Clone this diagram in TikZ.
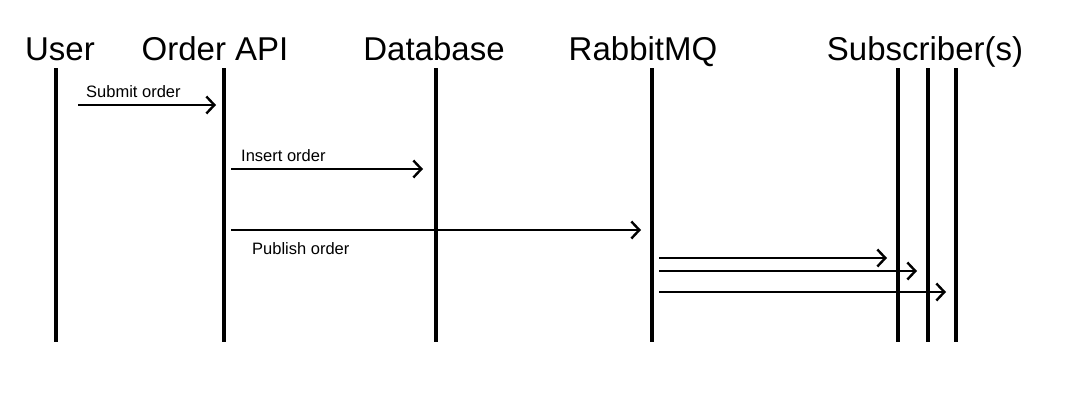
\documentclass[tikz,border=0pt]{standalone}
\usepackage{fontspec}
\setmainfont{Liberation Sans}
\usetikzlibrary{arrows.meta}
\begin{document}
\begin{tikzpicture}[x=1pt,y=-1pt,
  lifeline/.style={line width=4pt},
  title/.style={font=\fontsize{33}{36}\selectfont, inner sep=0pt, anchor=base},
  msg/.style={line width=2.4pt, -{Straight Barb[length=8pt,width=17pt,line width=2.4pt]}},
  lbl/.style={font=\fontsize{16.5}{18}\selectfont, inner sep=0pt, anchor=base west}]
\useasboundingbox[fill=white] (0,0) rectangle (1073,413);
% titles
\node[title] (tUser) at (60,60) {User};
\node[title] (tApi) at (215,60) {Order API};
\node[title] (tDb) at (434,60) {Database};
\node[title] (tMq) at (643,60) {RabbitMQ};
\node[title] (tSub) at (925,60) {Subscriber(s)};
% lifelines
\coordinate (u1) at (56,68);  \coordinate (u2) at (56,342);
\coordinate (a1) at (224,68); \coordinate (a2) at (224,342);
\coordinate (d1) at (436,68); \coordinate (d2) at (436,342);
\coordinate (r1) at (652,68); \coordinate (r2) at (652,342);
\coordinate (s1) at (898,68); \coordinate (s2) at (898,342);
\coordinate (p1) at (928,68); \coordinate (p2) at (928,342);
\coordinate (q1) at (956,68); \coordinate (q2) at (956,342);
\foreach \a/\b in {u1/u2,a1/a2,d1/d2,r1/r2,s1/s2,p1/p2,q1/q2}
  \draw[lifeline] (\a) -- (\b);
% messages
\coordinate (m1s) at (78,105);  \coordinate (m1e) at (216,105);
\coordinate (m2s) at (231,169); \coordinate (m2e) at (423,169);
\coordinate (m3s) at (231,230); \coordinate (m3e) at (641,230);
\coordinate (m4s) at (659,258); \coordinate (m4e) at (887,258);
\coordinate (m5s) at (659,271); \coordinate (m5e) at (917,271);
\coordinate (m6s) at (659,292); \coordinate (m6e) at (946,292);
\draw[msg] (m1s) -- (m1e);
\draw[msg] (m2s) -- (m2e);
\draw[msg] (m3s) -- (m3e);
\draw[msg] (m4s) -- (m4e);
\draw[msg] (m5s) -- (m5e);
\draw[msg] (m6s) -- (m6e);
\node[lbl] (l1) at (86,97) {Submit order};
\node[lbl] (l2) at (241,161) {Insert order};
\node[lbl] (l3) at (252,254) {Publish order};
\end{tikzpicture}
\end{document}
